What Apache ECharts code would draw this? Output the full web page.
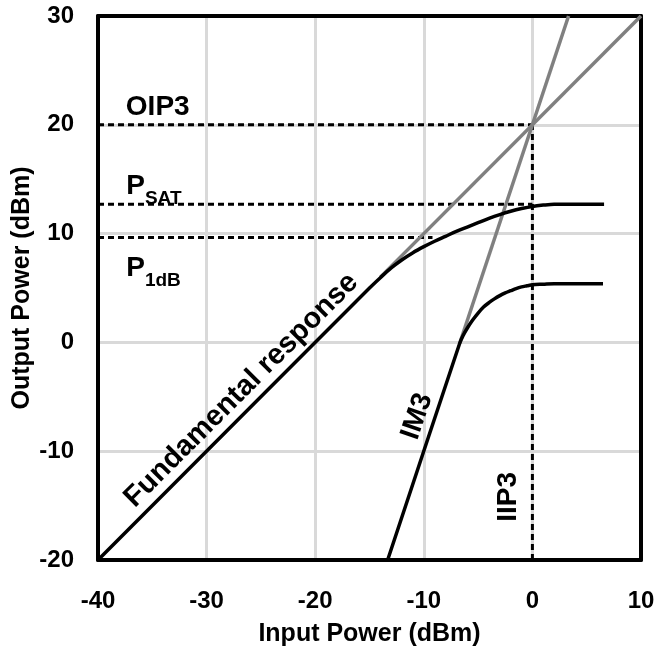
<!DOCTYPE html>
<html>
<head>
<meta charset="utf-8">
<script src="https://cdn.jsdelivr.net/npm/echarts@6/dist/echarts.min.js"></script>
<style>
  html, body { margin: 0; padding: 0; background: #fff; }
  #chart { width: 657px; height: 650px; }
</style>
</head>
<body>
<div id="chart"></div>
<script>
// Values (x = input power dBm, y = output power dBm)
const fundamental = [
  [-40, -20], [-15, 5], [-14, 5.95], [-13, 6.85], [-12, 7.6], [-11, 8.25],
  [-10, 8.8], [-9, 9.3], [-8, 9.75], [-7, 10.2], [-6, 10.6], [-5, 11.0],
  [-4, 11.4], [-3, 11.75], [-2, 12.05], [-1, 12.3], [0, 12.5], [1, 12.62],
  [2, 12.7], [3, 12.7], [6.6, 12.7]
]
const im3 = [
  [-13.33, -20], [-6.7, -0.1], [-6.4, 0.6], [-6, 1.3], [-5.5, 2.05], [-5, 2.7],
  [-4.5, 3.25], [-4, 3.65], [-3.5, 4.0], [-3, 4.3], [-2.5, 4.55], [-2, 4.75],
  [-1.5, 4.95], [-1, 5.1], [-0.5, 5.2], [0, 5.3], [1, 5.35], [2, 5.4], [6.5, 5.4]
]
const fundExtrap = [[-14, 6], [10, 30]]
const im3Extrap = [[-6.7, -0.1], [3.33, 30]]
const oip3Line = [[-40, 20], [0, 20]]
const iip3Line = [[0, -20], [0, 20]]
const psatLine = [[-40, 12.7], [0, 12.7]]
const p1dbLine = [[-40, 9.65], [-9.2, 9.65]]

const xTicks = [-40, -30, -20, -10, 0, 10]
const yTicks = [-20, -10, 0, 10, 20, 30]

const font = '"Liberation Sans", Arial, sans-serif'
const chart = echarts.init(document.getElementById('chart'))

const dashed = (data) => ({
  type: 'line', data, symbol: 'none', silent: true,
  lineStyle: { color: '#000', width: 3, type: [6, 4] }, z: 2
})
const gray = (data) => ({
  type: 'line', data, symbol: 'none', silent: true,
  lineStyle: { color: '#808080', width: 3.5 }, z: 3
})
const solid = (data) => ({
  type: 'line', data, symbol: 'none', silent: true, smooth: 0.3,
  lineStyle: { color: '#000', width: 3.5 }, z: 4
})

const axisLabelStyle = { color: '#000', fontSize: 24, fontWeight: 'bold', fontFamily: font }
const nameStyle = { color: '#000', fontSize: 25, fontWeight: 'bold', fontFamily: font }
const borderLine = { show: true, onZero: false, lineStyle: { color: '#000', width: 4 } }

chart.setOption({
  animation: false,
  grid: { left: 98, right: 16, top: 16, bottom: 90, outerBoundsMode: 'none' },
  xAxis: [{
    type: 'value', min: xTicks[0], max: xTicks[xTicks.length - 1], interval: 10,
    name: 'Input Power (dBm)', nameLocation: 'middle', nameGap: 62,
    nameTextStyle: nameStyle,
    axisLine: borderLine, axisTick: { show: false },
    axisLabel: Object.assign({ margin: 29 }, axisLabelStyle),
    splitLine: { show: true, lineStyle: { color: '#d9d9d9', width: 3 } }
  }, {
    type: 'value', position: 'top', min: -40, max: 10,
    axisLine: borderLine, axisTick: { show: false }, axisLabel: { show: false }, splitLine: { show: false }
  }],
  yAxis: [{
    type: 'value', min: yTicks[0], max: yTicks[yTicks.length - 1], interval: 10,
    axisLine: borderLine, axisTick: { show: false },
    axisLabel: Object.assign({ margin: 24 }, axisLabelStyle),
    splitLine: { show: true, lineStyle: { color: '#d9d9d9', width: 3 } }
  }, {
    type: 'value', position: 'right', min: -20, max: 30,
    axisLine: borderLine, axisTick: { show: false }, axisLabel: { show: false }, splitLine: { show: false }
  }],
  series: [
    dashed(oip3Line), dashed(iip3Line), dashed(psatLine), dashed(p1dbLine),
    gray(fundExtrap), gray(im3Extrap),
    solid(fundamental), solid(im3)
  ]
})

// annotations, anchored in data coordinates
const notes = [
  { at: [-34.5, 21.6], text: 'OIP3', rot: 0, align: 'center', size: 28 },
  { at: [-37.4, 14.4], text: '{p|P}{s|SAT}', rot: 0, align: 'left', size: 28 },
  { at: [-37.4, 6.9], text: '{p|P}{s|1dB}', rot: 0, align: 'left', size: 28 },
  { at: [-26.8, -4.4], text: 'Fundamental response', rot: 45, align: 'center', size: 29 },
  { at: [-10.6, -6.8], text: 'IM3', rot: 71, align: 'center', size: 28 },
  { at: [-2.2, -14.2], text: 'IIP3', rot: 90, align: 'center', size: 28 }
]

const graphics = notes.map((n) => {
  const [px, py] = chart.convertToPixel({ gridIndex: 0 }, n.at)
  return {
    type: 'text', x: px, y: py, rotation: n.rot * Math.PI / 180, z: 10,
    style: {
      text: n.text, fill: '#000', fontSize: n.size, fontWeight: 'bold', fontFamily: font,
      align: n.align, verticalAlign: 'middle',
      rich: {
        p: { fontSize: 28, fontWeight: 'bold', fontFamily: font, fill: '#000', lineHeight: 30, verticalAlign: 'bottom' },
        s: { fontSize: 19, fontWeight: 'bold', fontFamily: font, fill: '#000', verticalAlign: 'bottom', lineHeight: 30, padding: [0, 0, -8, 0] }
      }
    }
  }
})

// y axis title, centred on the plot height
const midY = chart.convertToPixel({ yAxisIndex: 0 }, (yTicks[0] + yTicks[yTicks.length - 1]) / 2)
graphics.push({
  type: 'text', x: 22, y: midY, rotation: Math.PI / 2, z: 10,
  style: Object.assign({ text: 'Output Power (dBm)', align: 'center', verticalAlign: 'middle', fill: '#000' }, nameStyle)
})

chart.setOption({ graphic: graphics })
</script>
</body>
</html>
